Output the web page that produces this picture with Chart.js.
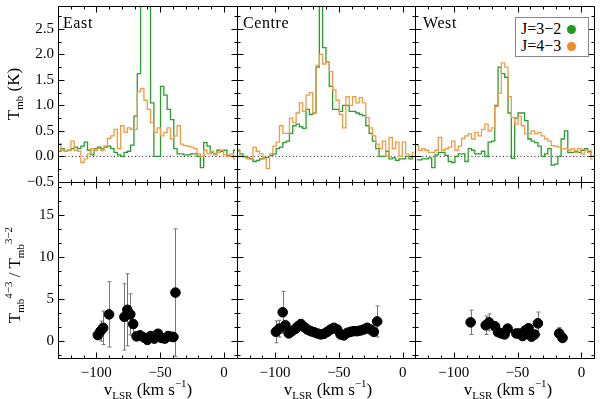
<!DOCTYPE html>
<html>
<head>
<meta charset="utf-8">
<script src="https://cdn.jsdelivr.net/npm/chart.js@4.4.0/dist/chart.umd.min.js"></script>
<style>
  body { margin: 0; background: #fff; }
  #wrap { position: relative; width: 600px; height: 399px; font-family: "Liberation Serif", "DejaVu Serif", serif; color: #000; }
  #plot { position: absolute; left: 0; top: 0; }
  .lbl { position: absolute; font-size: 16px; letter-spacing: 0.6px; line-height: 1; }
  .ytitle { position: absolute; font-size: 17px; white-space: nowrap; line-height: 1; transform: translate(-50%, -50%) rotate(-90deg); }
  .xtitle { position: absolute; font-size: 17px; white-space: nowrap; line-height: 1; transform: translate(-50%, -50%); }
  .sb { font-size: 11px; position: relative; top: 4px; }
  .sp { font-size: 11px; position: relative; top: -8px; }
  #legend { position: absolute; left: 515px; top: 17px; width: 72px; height: 38px; border: 1px solid #888; background: #fff; font-size: 16px; }
  #legend div { position: absolute; left: 5px; line-height: 1; white-space: nowrap; }
  .dot { display: inline-block; width: 9px; height: 9px; border-radius: 50%; margin-left: 6px; vertical-align: 0px; }
</style>
</head>
<body>
<div id="wrap">
  <canvas id="plot" width="600" height="399"></canvas>
  <div class="lbl" style="left:63px; top:15px;">East</div>
  <div class="lbl" style="left:243px; top:15px;">Centre</div>
  <div class="lbl" style="left:423px; top:15px;">West</div>
  <div id="legend">
    <div style="top:3px;">J=3−2<span class="dot" style="background:#1f9a22"></span></div>
    <div style="top:20px;">J=4−3<span class="dot" style="background:#f08a24"></span></div>
  </div>
  <div class="ytitle" style="left:13px; top:94px;">T<span class="sb">mb</span> (K)</div>
  <div class="ytitle" style="left:14px; top:275px;">T<span class="sb">mb</span><span class="sp">4−3</span> / T<span class="sb">mb</span><span class="sp">3−2</span></div>
  <div class="xtitle" style="left:148px; top:389px;">v<span class="sb">LSR</span> (km s<span class="sp">−1</span>)</div>
  <div class="xtitle" style="left:328px; top:389px;">v<span class="sb">LSR</span> (km s<span class="sp">−1</span>)</div>
  <div class="xtitle" style="left:508px; top:389px;">v<span class="sb">LSR</span> (km s<span class="sp">−1</span>)</div>
</div>
<script>
// velocity channels (km/s), shared by all spectra
var vChan = [-129.0, -126.4, -123.8, -121.2, -118.6, -116.0, -113.4, -110.8, -108.2, -105.6,
  -103.0, -100.4, -97.8, -95.2, -92.6, -90.0, -87.4, -84.8, -82.2, -79.6,
  -77.0, -74.4, -71.8, -69.2, -66.6, -64.0, -61.4, -58.8, -56.2, -53.6,
  -51.0, -48.4, -45.8, -43.2, -40.6, -38.0, -35.4, -32.8, -30.2, -27.6,
  -25.0, -22.4, -19.8, -17.2, -14.6, -12.0, -9.4, -6.8, -4.2, -1.6,
  1.0, 3.6, 6.2, 8.8];

// Tmb (K), J=3-2
var eastCO32 = [0.10, 0.15, 0.10, 0.12, 0.15, 0.18, 0.15, 0.20, 0.28, 0.12,
  0.03, 0.15, 0.18, 0.15, 0.18, 0.20, 0.15, 0.08, 0.03, 0.00,
  0.08, 0.10, 0.22, 0.79, 1.62, 3.30, 3.30, 3.30, 1.05, 0.00,
  0.00, 1.37, 1.20, 0.92, 0.72, 0.15, 0.05, 0.05, 0.03, 0.03,
  0.05, 0.05, 0.00, -0.22, 0.27, 0.20, 0.07, 0.05, 0.12, 0.10,
  0.12, 0.02, 0.00, 0.12];
var centreCO32 = [0.12, 0.05, 0.00, -0.03, -0.05, -0.10, -0.08, -0.05, -0.03, -0.02,
  0.02, 0.05, 0.15, 0.18, 0.27, 0.30, 0.45, 0.60, 0.63, 0.58,
  0.55, 0.92, 0.82, 0.85, 1.75, 3.30, 2.13, 1.85, 1.37, 0.92,
  0.92, 0.88, 1.00, 1.00, 0.88, 0.88, 0.85, 0.82, 0.80, 0.60,
  0.45, 0.30, 0.15, 0.00, 0.00, 0.10, -0.05, -0.03, -0.08, -0.05,
  -0.05, 0.00, -0.05, 0.00];
var westCO32 = [-0.07, -0.07, -0.05, -0.05, -0.03, -0.22, 0.03, 0.08, 0.08, 0.02,
  -0.10, -0.12, 0.00, 0.05, 0.05, -0.10, 0.15, 0.12, 0.05, 0.05,
  0.10, 0.00, 0.28, 0.30, 1.00, 1.75, 1.62, 1.55, 0.85, -0.04,
  0.75, 0.85, 0.85, 0.70, 0.34, 0.30, 0.27, 0.20, 0.00, 0.05,
  0.15, -0.17, -0.15, 0.00, 0.34, 0.50, 0.08, 0.08, 0.10, 0.08,
  0.12, 0.15, 0.10, 0.00];

// Tmb (K), J=4-3
var eastCO43 = [0.25, 0.12, 0.10, 0.12, 0.30, 0.12, 0.10, -0.12, -0.05, 0.05,
  0.15, 0.12, 0.15, 0.12, 0.20, 0.35, 0.40, 0.53, 0.15, 0.60,
  0.47, 0.56, 0.53, 0.53, 1.27, 1.33, 1.10, 0.92, 0.66, 0.47,
  0.56, 0.40, 0.47, 0.56, 0.34, 0.40, 0.60, 0.24, 0.21, 0.20,
  0.18, 0.15, 0.05, 0.00, 0.12, 0.05, 0.10, 0.03, 0.08, 0.12,
  0.03, 0.00, 0.05, -0.05];
var centreCO43 = [0.10, 0.00, -0.02, -0.05, -0.05, 0.18, 0.10, 0.05, -0.05, -0.24,
  0.05, 0.20, 0.28, 0.60, 0.45, 0.45, 0.75, 0.66, 0.85, 1.05,
  0.88, 1.20, 1.25, 0.85, 1.78, 2.00, 1.81, 1.85, 1.66, 1.30,
  1.10, 0.82, 0.56, 1.17, 1.00, 1.17, 1.05, 1.15, 1.05, 0.76,
  0.56, 0.40, 0.24, 0.15, 0.30, 0.00, 0.37, 0.15, 0.28, 0.00,
  0.28, 0.05, 0.00, 0.08];
var westCO43 = [0.21, 0.12, 0.15, 0.12, 0.08, 0.08, 0.12, 0.37, 0.12, 0.15,
  0.18, 0.30, 0.12, 0.20, 0.35, 0.40, 0.44, 0.34, 0.47, 0.40,
  0.53, 0.63, 0.50, 0.56, 0.98, 1.24, 1.83, 1.75, 1.17, 0.76,
  0.63, 0.79, 0.60, 0.44, 0.44, 0.50, 0.44, 0.47, 0.40, 0.34,
  0.30, 0.21, 0.20, 0.18, 0.15, 0.15, 0.12, 0.15, 0.08, 0.15,
  0.05, 0.12, 0.08, -0.05];

// line ratio T(4-3)/T(3-2) with errors
var eastRatioV = [-98.8, -96.7, -94.6, -90.0, -78.0, -75.7, -73.4, -71.1, -68.5, -65.7,
  -62.6, -60.0, -57.4, -54.6, -51.7, -48.9, -46.3, -43.7, -41.1, -39.6, -38.0];
var eastRatio = [0.73, 1.2, 1.6, 3.2, 2.9, 3.75, 3.2, 2.05, 0.58, 0.7,
  0.43, 0.16, 0.62, 0.31, 0.89, 0.39, 0.31, 0.62, 0.54, 0.5, 5.8];
var eastRatioErr = [0.5, 1.2, 2.0, 3.9, 3.95, 4.3, 2.45, 1.3, 0.3, 0.3,
  0.25, 0.2, 0.25, 0.25, 0.3, 0.25, 0.25, 0.25, 0.3, 0.3, 7.6];

var centreRatioV = [-99.3, -96.6, -94.0, -91.9, -89.3, -86.8, -84.1, -82.1, -79.7, -77.3,
  -74.7, -72.1, -69.6, -66.9, -64.3, -61.7, -59.1, -56.5, -53.9, -51.3,
  -48.7, -46.1, -43.4, -40.9, -38.3, -35.6, -33.1, -30.5, -27.8, -25.2, -22.6, -20.0];
var centreRatio = [1.12, 1.5, 3.45, 1.9, 0.93, 1.2, 1.47, 1.78, 2.05, 1.7,
  1.4, 1.2, 1.08, 0.93, 0.81, 0.89, 1.12, 1.4, 1.6, 1.4,
  0.81, 0.7, 1.0, 1.12, 1.2, 1.2, 1.28, 1.4, 1.6, 1.4, 1.12, 2.36];
var centreRatioErr = [1.3, 1.0, 2.5, 0.4, 0.2, 0.2, 0.2, 0.2, 0.2, 0.2,
  0.2, 0.2, 0.2, 0.2, 0.2, 0.2, 0.2, 0.2, 0.2, 0.2,
  0.2, 0.2, 0.2, 0.2, 0.2, 0.2, 0.2, 0.2, 0.2, 0.2, 0.2, 1.85];

var westRatioV = [-86.8, -75.0, -72.4, -67.7, -65.3, -62.8, -60.2, -57.8, -51.0, -48.5,
  -46.1, -43.8, -41.4, -39.1, -36.7, -34.1, -17.4, -14.8];
var westRatio = [2.25, 1.9, 2.25, 1.78, 1.08, 0.93, 0.81, 1.5, 0.93, 0.93,
  0.62, 1.3, 1.55, 0.54, 0.81, 2.13, 0.93, 0.39];
var westRatioErr = [1.45, 1.1, 1.0, 0.5, 0.2, 0.2, 0.2, 0.2, 0.2, 0.2,
  0.2, 0.2, 0.3, 0.2, 0.2, 1.35, 0.7, 0.2];

// axis ticks
var xLabelTicks = [-100, -50, 0];
var xMinorTicks = [-130, -120, -110, -100, -90, -80, -70, -60, -50, -40, -30, -20, -10, 0, 10];
var yTopLabelTicks = [-0.5, 0.0, 0.5, 1.0, 1.5, 2.0, 2.5];
var yTopMinorTicks = [-0.5, -0.25, 0, 0.25, 0.5, 0.75, 1.0, 1.25, 1.5, 1.75, 2.0, 2.25, 2.5, 2.75];
var yBotLabelTicks = [0, 5, 10, 15];
var yBotMinorTicks = [-1.667, 0, 1.667, 3.333, 5, 6.667, 8.333, 10, 11.667, 13.333, 15, 16.667, 18.333];

var green = '#2a9d2e';
var orange = '#ef9c45';

function pts(xs, ys) {
  return xs.map(function(v, i) { return {x: v, y: ys[i]}; });
}

function spectrum(xid, vals, color, ord) {
  return { type: 'line', xAxisID: xid, yAxisID: 'y1', data: pts(vChan, vals),
    stepped: 'middle', borderColor: color, borderWidth: 1.3, pointRadius: 0, fill: false, order: ord };
}

function zeroLine(xid) {
  return { type: 'line', xAxisID: xid, yAxisID: 'y1', data: [{x: -130, y: 0}, {x: 10, y: 0}],
    borderColor: '#111', borderWidth: 1, borderDash: [1, 2.5], pointRadius: 0, order: 5 };
}

function ratio(xid, xs, ys, errs) {
  return { type: 'scatter', xAxisID: xid, yAxisID: 'y2', data: pts(xs, ys), errors: errs,
    pointRadius: 4.8, pointBackgroundColor: '#000', pointBorderColor: '#000', order: 0 };
}

// vertical error bars, drawn under the points
var errorBars = {
  id: 'errorBars',
  beforeDatasetsDraw: function(chart) {
    var ctx = chart.ctx, area = chart.chartArea;
    ctx.save();
    ctx.beginPath();
    ctx.rect(area.left, area.top, area.right - area.left, area.bottom - area.top);
    ctx.clip();
    ctx.strokeStyle = '#777';
    ctx.lineWidth = 1;
    chart.data.datasets.forEach(function(ds, i) {
      if (!ds.errors) return;
      var meta = chart.getDatasetMeta(i);
      var xs = chart.scales[meta.xAxisID], ys = chart.scales[meta.yAxisID];
      ds.data.forEach(function(p, j) {
        var px = Math.round(xs.getPixelForValue(p.x)) + 0.5;
        var yLo = ys.getPixelForValue(p.y - ds.errors[j]);
        var yHi = ys.getPixelForValue(p.y + ds.errors[j]);
        ctx.beginPath();
        ctx.moveTo(px, yLo); ctx.lineTo(px, yHi);
        ctx.moveTo(px - 2, yLo); ctx.lineTo(px + 2, yLo);
        ctx.moveTo(px - 2, yHi); ctx.lineTo(px + 2, yHi);
        ctx.stroke();
      });
    });
    ctx.restore();
  }
};

// panel frames with inward ticks on all four sides
var frameTicks = {
  id: 'frameTicks',
  afterDraw: function(chart) {
    var ctx = chart.ctx;
    ctx.save();
    ctx.strokeStyle = '#000';
    ctx.lineWidth = 1;
    ['x1', 'x2', 'x3'].forEach(function(xid) {
      var xs = chart.scales[xid];
      [['y1', yTopLabelTicks, yTopMinorTicks], ['y2', yBotLabelTicks, yBotMinorTicks]].forEach(function(row) {
        var ys = chart.scales[row[0]];
        var L = Math.round(xs.left) + 0.5, R = Math.round(xs.right) + 0.5;
        var T = Math.round(ys.top) + 0.5, B = Math.round(ys.bottom) + 0.5;
        ctx.beginPath();
        ctx.rect(L, T, R - L, B - T);
        xMinorTicks.forEach(function(v) {
          var len = xLabelTicks.indexOf(v) >= 0 ? 6 : 3;
          var px = Math.round(xs.getPixelForValue(v)) + 0.5;
          ctx.moveTo(px, B); ctx.lineTo(px, B - len);
          ctx.moveTo(px, T); ctx.lineTo(px, T + len);
        });
        row[2].forEach(function(v) {
          var len = row[1].indexOf(v) >= 0 ? 6 : 3;
          var py = Math.round(ys.getPixelForValue(v)) + 0.5;
          if (py < T || py > B) return;
          ctx.moveTo(L, py); ctx.lineTo(L + len, py);
          ctx.moveTo(R, py); ctx.lineTo(R - len, py);
        });
        ctx.stroke();
      });
    });
    ctx.restore();
  }
};

function minus(s) { return String(s).replace('-', '\u2212'); }

// keep label overhang from shrinking the plot area
function noPad(s) { s.paddingTop = 0; s.paddingBottom = 0; s.paddingLeft = 0; s.paddingRight = 0; }

function xScale(weight) {
  return {
    type: 'linear', position: 'bottom', stack: 'cols', stackWeight: 1, weight: weight,
    min: -130, max: 10,
    grid: { display: false, drawTicks: false }, border: { display: false },
    afterBuildTicks: function(s) { s.ticks = xLabelTicks.map(function(v) { return {value: v}; }); },
    afterFit: function(s) { s.height = 41; noPad(s); },
    ticks: { padding: 6, maxRotation: 0, autoSkip: false, color: '#000',
      callback: function(v) { return minus(v); } }
  };
}

Chart.defaults.font.family = '"Liberation Serif", "DejaVu Serif", serif';
Chart.defaults.font.size = 15;
Chart.defaults.color = '#000';

new Chart(document.getElementById('plot'), {
  type: 'line',
  data: {
    datasets: [
      zeroLine('x1'), zeroLine('x2'), zeroLine('x3'),
      spectrum('x1', eastCO32, green, 2), spectrum('x1', eastCO43, orange, 1),
      spectrum('x2', centreCO32, green, 2), spectrum('x2', centreCO43, orange, 1),
      spectrum('x3', westCO32, green, 2), spectrum('x3', westCO43, orange, 1),
      ratio('x1', eastRatioV, eastRatio, eastRatioErr),
      ratio('x2', centreRatioV, centreRatio, centreRatioErr),
      ratio('x3', westRatioV, westRatio, westRatioErr)
    ]
  },
  options: {
    responsive: false,
    animation: false,
    layout: { padding: { left: 0, top: 2, right: 2, bottom: 0 } },
    plugins: { legend: { display: false }, tooltip: { enabled: false } },
    scales: {
      x1: xScale(1),
      x2: xScale(2),
      x3: xScale(3),
      y1: {
        type: 'linear', position: 'left', stack: 'rows', stackWeight: 1, weight: 2,
        min: -0.5, max: 2.95,
        grid: { display: false, drawTicks: false }, border: { display: false },
        afterBuildTicks: function(s) { s.ticks = yTopLabelTicks.map(function(v) { return {value: v}; }); },
        afterFit: function(s) { s.width = 58; noPad(s); },
        ticks: { padding: 4, autoSkip: false, color: '#000',
          callback: function(v) { return minus(Number(v).toFixed(1)); } }
      },
      y2: {
        type: 'linear', position: 'left', stack: 'rows', stackWeight: 1, weight: 1,
        min: -2, max: 19,
        grid: { display: false, drawTicks: false }, border: { display: false },
        afterBuildTicks: function(s) { s.ticks = yBotLabelTicks.map(function(v) { return {value: v}; }); },
        afterFit: function(s) { s.width = 58; noPad(s); },
        ticks: { padding: 4, autoSkip: false, color: '#000' }
      }
    }
  },
  plugins: [errorBars, frameTicks]
});
</script>
</body>
</html>
